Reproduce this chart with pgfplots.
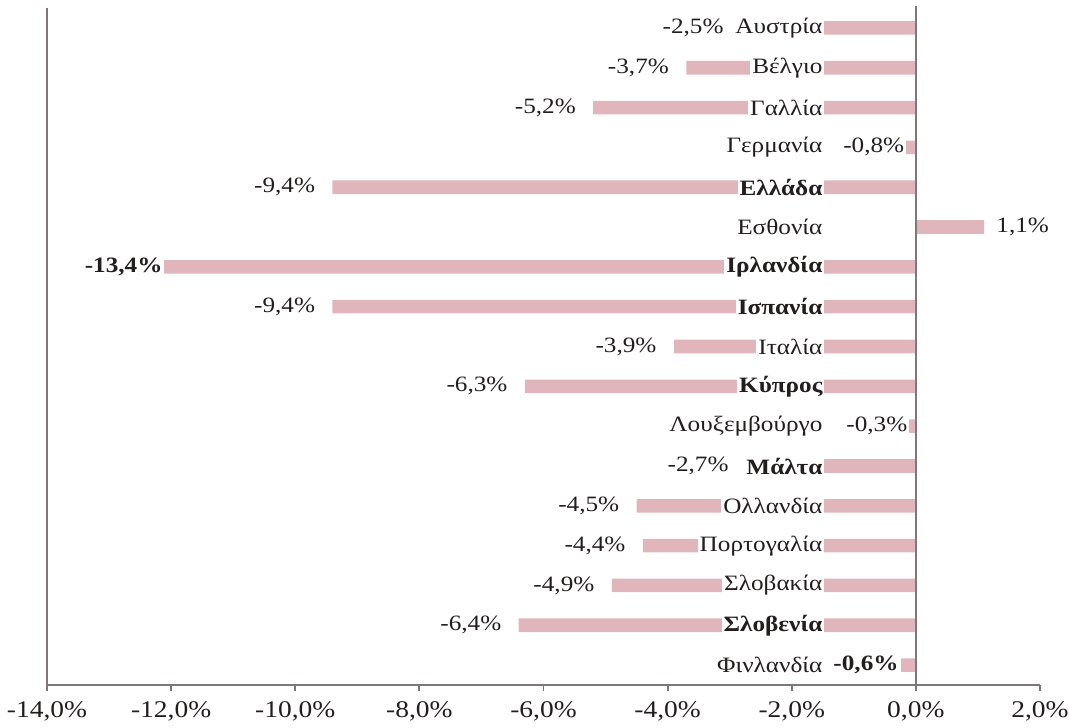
\documentclass[border=0pt]{standalone}
\usepackage{fontspec}
\setmainfont{Liberation Serif}[FakeStretch=1.15]
\usepackage{pgfplots}
\usepackage{pgfplotstable}
\pgfplotsset{compat=1.18}

\definecolor{barpink}{RGB}{224,182,188}
\definecolor{axisgray}{RGB}{128,118,120}
\definecolor{txt}{RGB}{35,30,30}

\tikzset{
  cname/.style={anchor=east, fill=white, inner sep=1bp, xshift=1bp, text=txt, font=\fontsize{11}{13}\selectfont},
  vlab/.style={anchor=east, fill=white, inner sep=1bp, text=txt, font=\fontsize{11}{13}\selectfont},
  gap/.style={xshift=-7.5bp},
}

% Change 2009 (% of GDP), euro-area countries, top to bottom
\pgfplotstableread{
idx value
1  -2.5
2  -3.7
3  -5.2
4  -0.8
5  -9.4
6   1.1
7  -13.4
8  -9.4
9  -3.9
10 -6.3
11 -0.3
12 -2.7
13 -4.5
14 -4.4
15 -4.9
16 -6.4
17 -0.6
}\data

\begin{document}
\begin{tikzpicture}
\useasboundingbox (0,0) rectangle (534.5bp,364bp);
\begin{axis}[
  at={(23.5bp,21.5bp)}, anchor=south west,
  width=496.5bp, height=338.5bp, scale only axis,
  xmin=-14, xmax=2, ymin=0.5, ymax=17.5, y dir=reverse,
  axis x line*=bottom, axis y line*=left,
  axis line style={axisgray, line width=0.9bp, -},
  xtick={-14,-12,-10,-8,-6,-4,-2,0,2},
  xticklabels={{-14,0\%},{-12,0\%},{-10,0\%},{-8,0\%},{-6,0\%},{-4,0\%},{-2,0\%},{0,0\%},{2,0\%}},
  ytick=\empty,
  tick align=outside, major tick length=3bp,
  xtick style={axisgray, line width=0.9bp},
  xticklabel style={font=\fontsize{12}{14}\selectfont, text=txt, yshift=-2bp},
  clip=false,
]
\addplot[xbar, bar width=6.8bp, fill=barpink, draw=none] table[x=value, y=idx] {\data};

% zero line
\draw[axisgray, line width=0.9bp] (axis cs:0,0.45) -- (axis cs:0,17.5);

% country names
\node[cname] at (axis cs:-1.5,1)  {Αυστρία};
\node[cname] at (axis cs:-1.5,2)  {Βέλγιο};
\node[cname] at (axis cs:-1.5,3)  {Γαλλία};
\node[cname] at (axis cs:-1.5,4)  {Γερμανία};
\node[cname] at (axis cs:-1.5,5)  {\bfseries Ελλάδα};
\node[cname] at (axis cs:-1.5,6)  {Εσθονία};
\node[cname] at (axis cs:-1.5,7)  {\bfseries Ιρλανδία};
\node[cname] at (axis cs:-1.5,8)  {\bfseries Ισπανία};
\node[cname] at (axis cs:-1.5,9)  {Ιταλία};
\node[cname] at (axis cs:-1.5,10) {\bfseries Κύπρος};
\node[cname] at (axis cs:-1.5,11) {Λουξεμβούργο};
\node[cname] at (axis cs:-1.5,12) {\bfseries Μάλτα};
\node[cname] at (axis cs:-1.5,13) {Ολλανδία};
\node[cname] at (axis cs:-1.5,14) {Πορτογαλία};
\node[cname] at (axis cs:-1.5,15) {Σλοβακία};
\node[cname] at (axis cs:-1.5,16) {\bfseries Σλοβενία};
\node[cname] at (axis cs:-1.5,17) {Φινλανδία};

% value labels
\node[vlab] at (axis cs:-3.06,1) {-2,5\%};
\node[vlab, gap] at (axis cs:-3.7,2)  {-3,7\%};
\node[vlab, gap] at (axis cs:-5.2,3)  {-5,2\%};
\node[vlab] at (axis cs:-0.15,4) {-0,8\%};
\node[vlab, gap] at (axis cs:-9.4,5)  {-9,4\%};
\node[vlab, anchor=west] at (axis cs:1.26,6) {1,1\%};
\node[vlab, anchor=west, font=\fontsize{11}{13}\selectfont\bfseries] at (axis cs:-13.43,7) {-13,4\%};
\node[vlab, gap] at (axis cs:-9.4,8)  {-9,4\%};
\node[vlab, gap] at (axis cs:-3.9,9)  {-3,9\%};
\node[vlab, gap] at (axis cs:-6.3,10) {-6,3\%};
\node[vlab] at (axis cs:-0.1,11) {-0,3\%};
\node[vlab] at (axis cs:-2.98,12) {-2,7\%};
\node[vlab, gap] at (axis cs:-4.5,13) {-4,5\%};
\node[vlab, gap] at (axis cs:-4.4,14) {-4,4\%};
\node[vlab, gap] at (axis cs:-4.9,15) {-4,9\%};
\node[vlab, gap] at (axis cs:-6.4,16) {-6,4\%};
\node[vlab, font=\fontsize{11}{13}\selectfont\bfseries] at (axis cs:-0.24,17) {-0,6\%};
\end{axis}
\end{tikzpicture}
\end{document}
